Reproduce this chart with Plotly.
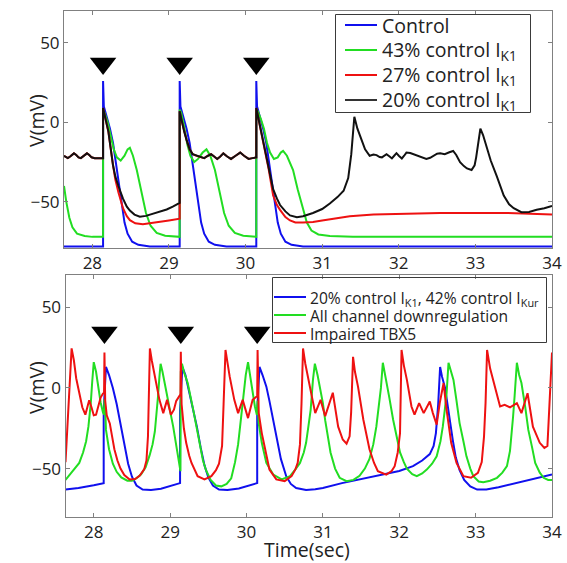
import plotly.graph_objects as go

# ---------------- data: membrane potential traces (time in s, V in mV) ----------------
# upper panel: paced cells with graded I_K1 reduction
stim_times = [28.14, 29.14, 30.14]

top_control = [
    (27.63, -78), (28.14, -78), (28.14, 26), (28.15, 10), (28.19, 3), (28.23, -4), (28.27, -13),
    (28.30, -23), (28.34, -38), (28.38, -52), (28.42, -63), (28.46, -70), (28.52, -75), (28.60, -77),
    (28.75, -78), (29.14, -78), (29.14, 26), (29.15, 10), (29.19, 3), (29.23, -4), (29.27, -13),
    (29.30, -23), (29.34, -38), (29.38, -52), (29.42, -63), (29.46, -70), (29.52, -75), (29.60, -77),
    (29.75, -78), (30.14, -78), (30.14, 26), (30.15, 10), (30.19, 3), (30.23, -4), (30.27, -13),
    (30.30, -23), (30.34, -38), (30.38, -52), (30.42, -63), (30.46, -70), (30.52, -75), (30.60, -77),
    (30.75, -78), (34.0, -78),
]

top_ik1_43 = [
    (27.63, -40), (27.66, -50), (27.70, -60), (27.74, -66), (27.80, -70), (27.90, -71.5), (28.00, -72),
    (28.14, -72), (28.14, 8), (28.16, 6), (28.20, 0), (28.24, -8), (28.28, -17), (28.32, -22),
    (28.37, -24), (28.42, -21), (28.46, -17), (28.49, -16), (28.53, -21), (28.58, -30), (28.64, -44),
    (28.70, -57), (28.76, -65), (28.84, -69.5), (28.95, -71.3), (29.14, -72),
    (29.14, 8), (29.16, 6), (29.20, -3), (29.24, -14), (29.28, -21), (29.33, -25), (29.38, -23),
    (29.44, -19), (29.49, -17), (29.54, -21), (29.60, -30), (29.66, -44), (29.72, -57), (29.78, -65),
    (29.86, -69.5), (29.97, -71.3), (30.14, -72),
    (30.14, 8), (30.16, 7), (30.20, 2), (30.24, -4), (30.28, -13), (30.32, -19), (30.37, -23),
    (30.42, -22), (30.46, -19), (30.49, -18), (30.54, -21), (30.62, -30), (30.68, -42), (30.74, -53),
    (30.80, -63), (30.86, -68), (30.95, -70.5), (31.10, -71.5), (31.40, -72), (34.0, -72),
]

top_ik1_27 = [
    (27.63, -21), (27.66, -22), (27.68, -22.5), (27.71, -21.5), (27.74, -20), (27.76, -19.5),
    (27.79, -20.5), (27.82, -22), (27.85, -22.5), (27.88, -21.5), (27.91, -20), (27.93, -19.5),
    (27.96, -20.5), (27.99, -22), (28.03, -22.5), (28.08, -22.5), (28.14, -22.5),
    (28.14, 9), (28.17, 3), (28.21, -6), (28.27, -27), (28.30, -36), (28.34, -44), (28.40, -54),
    (28.45, -59), (28.49, -61.5), (28.56, -63.5), (28.66, -64), (28.77, -63.3), (28.88, -62.7),
    (29.00, -61.7), (29.14, -60.6),
    (29.14, 7), (29.17, 0), (29.20, -6), (29.23, -11), (29.27, -17), (29.31, -20), (29.36, -21),
    (29.41, -22), (29.46, -22.5), (29.51, -21), (29.55, -20), (29.59, -21.5), (29.63, -23),
    (29.67, -21.5), (29.71, -19.5), (29.76, -21.5), (29.81, -23), (29.87, -21), (29.93, -19),
    (29.98, -21), (30.04, -23), (30.09, -22.5), (30.14, -22),
    (30.14, 9), (30.17, 2), (30.21, -7), (30.25, -17), (30.30, -29), (30.36, -46), (30.41, -52),
    (30.45, -55), (30.52, -59.5), (30.58, -61.7), (30.65, -63), (30.75, -63), (30.88, -62.7),
    (31.00, -61.7), (31.15, -60.6), (31.36, -59), (31.67, -58), (32.00, -57.5), (32.54, -57),
    (33.41, -57), (34.0, -58),
]

top_ik1_20 = [
    (27.63, -21), (27.66, -22), (27.68, -22.5), (27.71, -21.5), (27.74, -20), (27.76, -19.5),
    (27.79, -20.5), (27.82, -22), (27.85, -22.5), (27.88, -21.5), (27.91, -20), (27.93, -19.5),
    (27.96, -20.5), (27.99, -22), (28.03, -22.5), (28.08, -22.5), (28.14, -22.5),
    (28.14, 9), (28.17, 3), (28.21, -6), (28.27, -27), (28.30, -34), (28.34, -40), (28.40, -48),
    (28.45, -53), (28.49, -55.5), (28.55, -58), (28.62, -59.3), (28.70, -58.8), (28.80, -57.5),
    (28.90, -56), (28.97, -54.8), (29.05, -53), (29.14, -50.6),
    (29.14, 7), (29.17, 0), (29.20, -6), (29.23, -11), (29.27, -17), (29.31, -20), (29.36, -21),
    (29.41, -22), (29.46, -22.5), (29.51, -21), (29.55, -20), (29.59, -21.5), (29.63, -23),
    (29.67, -21.5), (29.71, -19.5), (29.76, -21.5), (29.81, -23), (29.87, -21), (29.93, -19),
    (29.98, -21), (30.04, -23), (30.09, -22.5), (30.14, -22),
    (30.14, 9), (30.17, 2), (30.21, -7), (30.25, -16), (30.30, -29), (30.36, -42), (30.41, -48),
    (30.45, -52), (30.52, -56), (30.58, -58.5), (30.67, -59.6), (30.75, -59), (30.88, -57),
    (31.00, -54.5), (31.10, -51), (31.20, -47), (31.28, -43), (31.34, -35), (31.38, -20),
    (31.42, 3.5), (31.46, -4), (31.50, -9), (31.56, -17), (31.62, -21), (31.67, -20.3),
    (31.71, -20.6), (31.75, -21.8), (31.78, -22), (31.81, -21), (31.84, -20), (31.88, -21.5),
    (31.91, -22.7), (31.94, -21), (31.97, -19.4), (32.00, -21), (32.04, -22.7), (32.07, -21),
    (32.10, -19), (32.15, -19.3), (32.19, -20), (32.24, -21.2), (32.28, -22), (32.36, -23),
    (32.41, -22.3), (32.45, -21), (32.50, -19.7), (32.54, -19.4), (32.60, -20), (32.66, -18.8),
    (32.71, -18), (32.75, -20.5), (32.80, -25), (32.85, -27.5), (32.89, -29), (32.95, -30),
    (32.99, -27), (33.01, -22), (33.04, -12), (33.065, -4), (33.10, -8), (33.13, -12.7),
    (33.20, -24), (33.28, -34), (33.37, -46), (33.44, -51.5), (33.50, -54), (33.60, -56.5),
    (33.70, -56.3), (33.80, -55), (33.90, -54), (34.0, -52.5),
]

# lower panel: remodelled cells
bot_ik1_ikur = [
    (27.63, -63), (27.80, -62), (28.00, -60.3), (28.13, -59),
    (28.13, -14), (28.16, 13), (28.20, 8), (28.25, 0), (28.30, -10), (28.35, -22), (28.40, -35),
    (28.45, -47), (28.50, -55), (28.56, -60.5), (28.64, -63), (28.75, -63.3), (28.88, -62.5),
    (29.00, -61), (29.13, -59),
    (29.13, -14), (29.16, 13), (29.20, 8), (29.25, -3), (29.30, -12), (29.35, -24), (29.40, -37),
    (29.45, -48), (29.50, -55.5), (29.56, -60.5), (29.64, -63), (29.75, -63.3), (29.90, -62.3),
    (30.00, -61), (30.14, -59),
    (30.14, -14), (30.17, 13), (30.21, 8), (30.26, 0.8), (30.30, -8), (30.35, -20), (30.40, -33),
    (30.45, -44), (30.52, -54.7), (30.58, -59.5), (30.65, -62), (30.78, -63.3), (30.90, -62.8),
    (31.00, -62), (31.25, -59), (31.50, -56.5), (31.75, -54), (32.00, -51.5), (32.18, -48.5),
    (32.30, -45), (32.40, -41), (32.45, -36), (32.48, -28), (32.51, -10), (32.535, 13),
    (32.56, 7), (32.60, 0), (32.63, -10), (32.66, -20), (32.70, -32), (32.74, -43), (32.79, -51),
    (32.85, -57), (32.93, -61), (33.02, -63), (33.14, -63), (33.30, -61.5), (33.49, -59.5),
    (33.75, -56.5), (34.0, -53.7),
]

bot_all_down = [
    (27.63, -57), (27.70, -53), (27.76, -50), (27.81, -46.5), (27.86, -40), (27.90, -33),
    (27.93, -24), (27.96, -10), (27.98, 4), (28.00, 16), (28.03, 10), (28.06, 0), (28.09, -9),
    (28.12, -15), (28.135, -16.6), (28.14, -7), (28.15, -12), (28.16, -26), (28.20, -38),
    (28.25, -47), (28.30, -52), (28.36, -55.5), (28.44, -57.5), (28.50, -57.5), (28.56, -56),
    (28.62, -53.5), (28.68, -49), (28.73, -42), (28.77, -35), (28.80, -27), (28.82, -18),
    (28.84, -6), (28.86, 7), (28.875, 15), (28.90, 10), (28.94, 1), (28.99, -12), (29.04, -24),
    (29.08, -36), (29.12, -47), (29.135, -51.6),
    (29.14, 10), (29.155, 15), (29.18, 10), (29.23, 3), (29.30, -13), (29.38, -34), (29.43, -45),
    (29.47, -51), (29.53, -57), (29.60, -60.5), (29.67, -61), (29.74, -59.5), (29.80, -56),
    (29.85, -46), (29.89, -35), (29.93, -18), (29.96, -4), (29.99, 8), (30.02, 16), (30.06, 3),
    (30.09, -5), (30.11, -11.5), (30.135, -16.6), (30.145, -8), (30.16, -22), (30.20, -34),
    (30.26, -46.5), (30.35, -53.7), (30.46, -56.7), (30.57, -54.7), (30.64, -50.5), (30.70, -46.5),
    (30.75, -40), (30.78, -34), (30.81, -24), (30.84, -13.6), (30.87, 5), (30.895, 15),
    (30.93, 8), (30.96, 0.8), (31.00, -9.4), (31.03, -20), (31.07, -31), (31.10, -40),
    (31.16, -50), (31.22, -55.7), (31.31, -57.8), (31.40, -57), (31.48, -54.5), (31.55, -50),
    (31.61, -44), (31.66, -35), (31.70, -24), (31.73, -13), (31.76, 0), (31.785, 15.6),
    (31.83, 5), (31.87, -6), (31.92, -19.7), (31.97, -32), (32.01, -40), (32.06, -46),
    (32.10, -50), (32.17, -53.5), (32.23, -54.7), (32.30, -53), (32.36, -50.6), (32.43, -47),
    (32.49, -42.4), (32.54, -33), (32.57, -24), (32.60, -12), (32.62, -3.3), (32.645, 15.6),
    (32.68, 10), (32.71, 5), (32.75, -8), (32.79, -21.8), (32.84, -33), (32.88, -42.4),
    (32.93, -50), (32.97, -54.7), (33.04, -58), (33.10, -58.4), (33.19, -57.5), (33.28, -55.7),
    (33.35, -52.5), (33.41, -48.5), (33.45, -39), (33.47, -30), (33.49, -18), (33.51, -5.3),
    (33.54, 15.6), (33.57, 8), (33.60, 3), (33.65, -12), (33.69, -26), (33.74, -37),
    (33.78, -46.5), (33.84, -52.5), (33.89, -55.7), (33.95, -57), (34.0, -57),
]

bot_tbx5 = [
    (27.63, -46), (27.65, -30), (27.67, -9.4), (27.69, 8), (27.71, 24.5), (27.74, 17), (27.77, 6),
    (27.81, -3), (27.85, -12), (27.89, -16.6), (27.92, -11), (27.94, -7.6), (27.97, -12),
    (28.00, -17), (28.03, -16.6), (28.06, -11), (28.09, -6), (28.12, -3.5), (28.135, -3),
    (28.14, 22), (28.15, -8), (28.17, -17), (28.21, -22), (28.24, -30), (28.27, -38), (28.31, -45),
    (28.35, -50), (28.40, -54), (28.47, -56.7), (28.54, -56.5), (28.60, -54.5), (28.66, -50.5),
    (28.69, -45), (28.71, -30), (28.725, 0), (28.735, 24.5), (28.76, 17), (28.80, 7),
    (28.86, -7.4), (28.91, -15.6), (28.96, -7.4), (29.01, -16.6), (29.05, -13.5), (29.08, -8),
    (29.12, -4.5), (29.135, -4), (29.14, 22.4), (29.15, -10), (29.18, -25), (29.21, -34),
    (29.25, -42), (29.28, -46.5), (29.36, -54.7), (29.45, -56.7), (29.54, -54.7), (29.60, -51),
    (29.64, -47), (29.68, -36), (29.70, -10), (29.725, 23.5), (29.75, 16), (29.78, 7),
    (29.84, -7.4), (29.89, -15.6), (29.95, -7.4), (30.02, -18.7), (30.08, -7.4), (30.13, -5.3),
    (30.14, -5), (30.145, 23.5), (30.16, -15.6), (30.20, -28), (30.24, -38), (30.30, -50.6),
    (30.39, -56.7), (30.50, -57.8), (30.59, -54.7), (30.64, -50.5), (30.67, -46.5), (30.70, -35),
    (30.72, -10), (30.74, 24.5), (30.77, 15), (30.80, 7), (30.85, -4), (30.90, -15.6),
    (30.97, -7.4), (31.03, -17.5), (31.08, -10), (31.13, -3), (31.17, -15), (31.20, -24),
    (31.26, -32), (31.31, -34.5), (31.35, -30), (31.37, -15), (31.395, 19.3), (31.42, 10),
    (31.46, 0.8), (31.53, -19.7), (31.61, -38), (31.67, -46.5), (31.72, -51.6), (31.83, -53.7),
    (31.90, -51.5), (31.94, -48.5), (31.98, -40), (32.01, -28), (32.03, 23.5), (32.06, 14),
    (32.10, 5), (32.16, -11.5), (32.20, -16.6), (32.26, -9.4), (32.32, -15.6), (32.40, -8.4),
    (32.44, -15.6), (32.49, -22.8), (32.53, -9.4), (32.58, 3), (32.62, -13.6), (32.68, -34),
    (32.75, -46.5), (32.84, -54.7), (32.94, -55.7), (33.03, -52.6), (33.08, -46), (33.11, -30),
    (33.13, -9.4), (33.15, 23.5), (33.19, 12), (33.23, 5), (33.32, -11.5), (33.38, -10.5),
    (33.45, -12), (33.54, -9.4), (33.60, -15.6), (33.68, -3.3), (33.75, -24), (33.84, -34),
    (33.90, -37.2), (33.94, -36), (33.97, -9.4), (34.0, 22),
]

x_ticks = [28, 29, 30, 31, 32, 33, 34]
y_ticks = [-50, 0, 50]

top_labels = ["Control", "43% control I<sub>K1</sub>", "27% control I<sub>K1</sub>",
              "20% control I<sub>K1</sub>"]
bot_labels = ["20% control I<sub>K1</sub>, 42% control I<sub>Kur</sub>",
              "All channel downregulation", "Impaired TBX5"]

# ---------------- styling ----------------
FONT = "Open Sans"
W, H = 567, 563
BLUE, GREEN, RED, BLACK = "#1010ee", "#22dd22", "#ee1111", "#111111"
AXIS_GREY = "#808080"
FRAME = "#3a3a3a"
TEXT = "#222222"
STIM_LEVEL_TOP = 37
STIM_LEVEL_BOT = 34.3

top_colors = [BLUE, GREEN, RED, BLACK]
bot_colors = [BLUE, GREEN, RED]


def fx(px):
    return px / W


def fy(py):
    return 1 - py / H


fig = go.Figure()


def add_trace(points, color, xa, ya):
    fig.add_trace(go.Scatter(
        x=[p[0] for p in points], y=[p[1] for p in points],
        mode="lines", line=dict(color=color, width=2),
        xaxis=xa, yaxis=ya, showlegend=False, hoverinfo="skip",
    ))


for pts, col in zip([top_control, top_ik1_43, top_ik1_27, top_ik1_20], top_colors):
    add_trace(pts, col, "x", "y")
for pts, col in zip([bot_ik1_ikur, bot_all_down, bot_tbx5], bot_colors):
    add_trace(pts, col, "x2", "y2")

# stimulus markers
for xa, ya, lvl in (("x", "y", STIM_LEVEL_TOP), ("x2", "y2", STIM_LEVEL_BOT)):
    fig.add_trace(go.Scatter(
        x=stim_times, y=[lvl] * len(stim_times), mode="markers",
        marker=dict(symbol="triangle-down", size=23, color="black", line=dict(width=0)),
        xaxis=xa, yaxis=ya, showlegend=False, hoverinfo="skip",
    ))

annotations = []


def boxed_legend(labels, colors, left, top, right, bottom, row0, pitch, lx0, lx1, tx, size):
    """Framed key on a hidden full-page overlay axis (units = pixels from top-left)."""
    fig.add_trace(go.Scatter(
        x=[left, right, right, left, left], y=[top, top, bottom, bottom, top],
        mode="lines", line=dict(color=FRAME, width=1),
        xaxis="x3", yaxis="y3", showlegend=False, hoverinfo="skip",
    ))
    for i, (lab, col) in enumerate(zip(labels, colors)):
        yy = row0 + i * pitch
        fig.add_trace(go.Scatter(
            x=[lx0, lx1], y=[yy, yy], mode="lines", line=dict(color=col, width=2),
            xaxis="x3", yaxis="y3", showlegend=False, hoverinfo="skip",
        ))
        annotations.append(dict(text=lab, xref="paper", yref="paper", x=fx(tx), y=fy(yy + 1),
                                xanchor="left", yanchor="middle", showarrow=False,
                                font=dict(family=FONT, size=size, color=TEXT)))


boxed_legend(top_labels, [BLUE, GREEN, RED, "#333333"], 335.5, 14.5, 530.5, 112.5, 25, 25, 345, 377, 380, 19.5)
boxed_legend(bot_labels, bot_colors, 272.5, 277.5, 546.5, 342.5, 297, 18, 274, 306, 308, 15.6)

# axis titles
annotations += [
    dict(text="V(mV)", xref="paper", yref="paper", x=fx(36), y=fy(121), textangle=-90,
         xanchor="center", yanchor="middle", showarrow=False,
         font=dict(family=FONT, size=19.5, color=TEXT)),
    dict(text="V(mV)", xref="paper", yref="paper", x=fx(36), y=fy(388), textangle=-90,
         xanchor="center", yanchor="middle", showarrow=False,
         font=dict(family=FONT, size=19.5, color=TEXT)),
    dict(text="Time(sec)", xref="paper", yref="paper", x=fx(307), y=fy(549),
         xanchor="center", yanchor="middle", showarrow=False,
         font=dict(family=FONT, size=19.5, color=TEXT)),
]

axis_common = dict(
    showline=True, linecolor=AXIS_GREY, linewidth=1, mirror="ticks",
    ticks="inside", ticklen=4, tickcolor=AXIS_GREY, tickwidth=1,
    showgrid=False, zeroline=False, automargin=False,
    tickfont=dict(family=FONT, size=17, color=TEXT),
)

fig.update_layout(
    width=W, height=H, autosize=False,
    margin=dict(l=0, r=0, t=0, b=0, pad=0, autoexpand=False),
    paper_bgcolor="white", plot_bgcolor="rgba(0,0,0,0)",
    font=dict(family=FONT, color=TEXT),
    xaxis=dict(domain=[fx(64), fx(552)], range=[27.63, 34], tickvals=x_ticks, anchor="y", **axis_common),
    yaxis=dict(domain=[fy(248), fy(11)], range=[-79, 70], tickvals=y_ticks, anchor="x", **axis_common),
    xaxis2=dict(domain=[fx(65.5), fx(552)], range=[27.63, 34], tickvals=x_ticks, anchor="y2", **axis_common),
    yaxis2=dict(domain=[fy(517), fy(275)], range=[-80, 70], tickvals=y_ticks, anchor="x2", **axis_common),
    # page-sized overlay used only for the keys
    xaxis3=dict(domain=[0, 1], range=[0, W], visible=False, anchor="y3", fixedrange=True),
    yaxis3=dict(domain=[0, 1], range=[H, 0], visible=False, anchor="x3", fixedrange=True),
    annotations=annotations,
    showlegend=False,
)

fig.write_html("out.html", config={"responsive": False})
